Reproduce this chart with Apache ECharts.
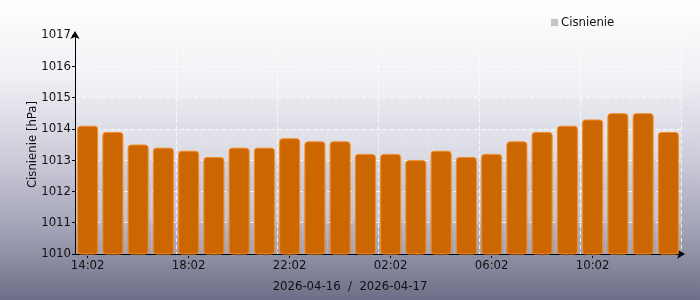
<!DOCTYPE html>
<html><head><meta charset="utf-8">
<script src="https://cdn.jsdelivr.net/npm/echarts@6/dist/echarts.min.js"></script>
<style>html,body{margin:0;padding:0;}#c{width:700px;height:300px;}</style>
</head><body><div id="c"></div>
<script>
const categories = ['14:02','15:02','16:02','17:02','18:02','19:02','20:02','21:02','22:02','23:02','00:02','01:02','02:02','03:02','04:02','05:02','06:02','07:02','08:02','09:02','10:02','11:02','12:02','13:02'];
const pressure = [1014.1,1013.9,1013.5,1013.4,1013.3,1013.1,1013.4,1013.4,1013.7,1013.6,1013.6,1013.2,1013.2,1013.0,1013.3,1013.1,1013.2,1013.6,1013.9,1014.1,1014.3,1014.5,1014.5,1013.9];
const seriesName = 'Cisnienie';
const yAxisName = 'Cisnienie [hPa]';
const xAxisName = '2026-04-16  /  2026-04-17';

const FONT = 'DejaVu Sans Condensed';
const chart = echarts.init(document.getElementById('c'));
chart.setOption({
  animation: false,
  backgroundColor: new echarts.graphic.LinearGradient(0,0,0,1,[
    {offset:0,color:'#ffffff'},{offset:0.25,color:'#f0f0f5'},{offset:0.5,color:'#d0d0dd'},{offset:0.75,color:'#a5a5ba'},{offset:1,color:'#6e6e88'}]),
  textStyle: {fontFamily: FONT},
  legend: {
    left: 546, top: 11, itemWidth: 7, itemHeight: 7, itemGap: 4,
    data: [{name: seriesName, icon: 'rect', itemStyle: {color: '#c4c4c4', borderWidth: 0}}],
    textStyle: {fontFamily: FONT, fontSize: 13, color: '#111', padding: [0,0,0,-2]}
  },
  grid: {left: 75, right: 19, top: 35, bottom: 46, show: true, backgroundColor: 'rgba(255,255,255,0.1)', borderWidth: 0},
  xAxis: [{
    type: 'category', data: categories, boundaryGap: true,
    name: xAxisName, nameLocation: 'middle', nameGap: 26,
    nameTextStyle: {fontFamily: FONT, fontSize: 13, color: '#111', padding: [0,56,0,0]},
    axisLine: {show: true, lineStyle: {color: '#000', width: 1}, symbol: ['none','arrow'], symbolSize: [7,8], symbolOffset: [0,4]},
    axisTick: {show: true, alignWithLabel: true, interval: 3, length: 4, lineStyle: {color: '#000'}},
    axisLabel: {interval: 3, margin: 5, fontFamily: FONT, fontSize: 13, color: '#111'},
    splitLine: {show: true, interval: 3, lineStyle: {color: 'rgba(255,255,255,0.75)', type: [4,3], width: 1}}
  },{
    type: 'category', data: categories, boundaryGap: true, position: 'bottom',
    axisLine: {show: false},
    axisTick: {show: true, alignWithLabel: true, interval: 0, length: 2, lineStyle: {color: '#666'}},
    axisLabel: {show: false},
    splitLine: {show: true, interval: 0, lineStyle: {color: 'rgba(255,255,255,0.12)', width: 1}}
  }],
  yAxis: {
    type: 'value', min: 1010, max: 1017, interval: 1,
    name: yAxisName, nameLocation: 'middle', nameGap: 36, nameMoveOverlap: false,
    nameTextStyle: {fontFamily: FONT, fontSize: 13, color: '#111'},
    axisLine: {show: true, lineStyle: {color: '#000', width: 1}, symbol: ['none','arrow'], symbolSize: [7,8], symbolOffset: [0,4]},
    axisTick: {show: true, length: 3, lineStyle: {color: '#000'}},
    axisLabel: {margin: 4, fontFamily: FONT, fontSize: 13, color: '#111', formatter: v => String(v)},
    splitLine: {show: true, lineStyle: {color: 'rgba(255,255,255,0.75)', type: [4,3], width: 1}},
    splitArea: {show: true, areaStyle: {color: ['rgba(255,255,255,0.05)','rgba(255,255,255,0.2)']}}
  },
  series: [{
    name: seriesName, type: 'bar', data: pressure, xAxisIndex: 0,
    barWidth: 21,
    itemStyle: {color: '#cc6600', borderColor: '#f48c24', borderWidth: 1, borderRadius: 3}
  }]
});
</script></body></html>
